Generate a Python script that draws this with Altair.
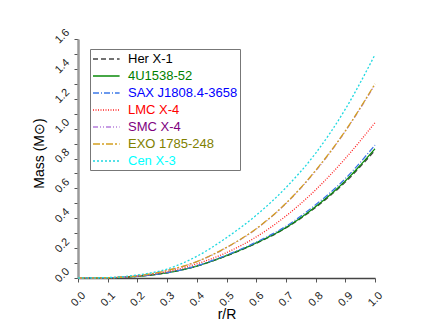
import altair as alt
import pandas as pd

r = [0.0, 0.1, 0.2, 0.3, 0.4, 0.5, 0.6, 0.7, 0.8, 0.9, 1.0]

her_x1 = [0.0, 0.0015, 0.011, 0.035, 0.080, 0.148, 0.232, 0.335, 0.472, 0.642, 0.855]
u4_1538 = [0.0, 0.0015, 0.011, 0.035, 0.080, 0.150, 0.235, 0.338, 0.478, 0.650, 0.865]
sax_j1808 = [0.0, 0.0015, 0.011, 0.036, 0.082, 0.153, 0.240, 0.346, 0.490, 0.665, 0.890]
lmc_x4 = [0.0, 0.002, 0.013, 0.042, 0.095, 0.170, 0.275, 0.415, 0.590, 0.800, 1.040]
smc_x4 = [0.0, 0.002, 0.015, 0.050, 0.109, 0.203, 0.328, 0.498, 0.716, 0.982, 1.295]
exo_1785 = [0.0, 0.002, 0.015, 0.050, 0.110, 0.205, 0.330, 0.500, 0.720, 0.985, 1.300]
cen_x3 = [0.0, 0.003, 0.020, 0.060, 0.145, 0.270, 0.420, 0.605, 0.835, 1.130, 1.495]

names = ["Her X-1", "4U1538-52", "SAX J1808.4-3658", "LMC X-4", "SMC X-4", "EXO 1785-248", "Cen X-3"]
series = [her_x1, u4_1538, sax_j1808, lmc_x4, smc_x4, exo_1785, cen_x3]
line_colors = ["#444444", "#0a8a0a", "#3b78e7", "#ff2020", "#b57edc", "#d4a020", "#1fd8e0"]
text_colors = ["#000000", "#008000", "#0000ff", "#ff0000", "#800080", "#808000", "#00ffff"]
dashes = [[5, 3], [1, 0], [6, 2, 1, 2], [1, 1.5], [5, 2, 1, 2, 1, 2], [7, 2, 2, 2], [2, 2]]

rows = []
for n, s in zip(names, series):
    for rv, mv in zip(r, s):
        rows.append({"r": rv, "mass": mv, "star": n})
df = pd.DataFrame(rows)

label_expr = " : ".join(
    [f"datum.label == '{n}' ? '{c}'" for n, c in zip(names, text_colors)]
) + " : 'black'"

legend = alt.Legend(
    title=None,
    orient="none",
    legendX=12,
    legendY=10,
    symbolType="M-1,0H2.8",
    symbolSize=196,
    symbolStrokeWidth=1.4,
    labelFont="Liberation Sans",
    labelFontSize=13,
    labelColor=alt.ExprRef(label_expr),
    strokeColor="#777777",
    padding=2,
    rowPadding=2,
    labelOffset=20,
)

x_vals = [0.0, 0.1, 0.2, 0.3, 0.4, 0.5, 0.6, 0.7, 0.8, 0.9, 1.0]
y_vals = [0.0, 0.1, 0.2, 0.3, 0.4, 0.5, 0.6, 0.7, 0.8, 0.9, 1.0, 1.1, 1.2, 1.3, 1.4, 1.5, 1.6]

chart = alt.Chart(df).mark_line(strokeWidth=1.3, interpolate="monotone").encode(
    x=alt.X("r:Q", scale=alt.Scale(domain=[0, 1.0], nice=False),
            axis=alt.Axis(title="r/R", values=x_vals, format=".1f", grid=False,
                          labelAngle=315, labelAlign="center", labelBaseline="middle",
                          labelPadding=17, tickSize=4, domainColor="#444444",
                          domainWidth=1.5, tickColor="#555555",
                          labelFont="Liberation Sans", labelFontSize=11,
                          labelColor="#222222", titleFont="Liberation Sans",
                          titleFontSize=14, titleFontWeight="normal", titlePadding=0)),
    y=alt.Y("mass:Q", scale=alt.Scale(domain=[0, 1.6], nice=False),
            axis=alt.Axis(title="Mass (M⊙)", values=y_vals, grid=False,
                          labelExpr="(round(datum.value*10) % 2 == 0) ? format(datum.value, '.1f') : ''",
                          labelAngle=315, labelAlign="center", labelBaseline="middle",
                          labelPadding=12, labelOffset=-3, tickSize=4, domainColor="#9a9a9a",
                          domainWidth=2.5, tickColor="#555555",
                          labelFont="Liberation Sans", labelFontSize=11,
                          labelColor="#222222", titleFont="Liberation Sans",
                          titleFontSize=14, titleFontWeight="normal", titlePadding=6,
                          titleY=114)),
    color=alt.Color("star:N", scale=alt.Scale(domain=names, range=line_colors), legend=legend, sort=names),
    strokeDash=alt.StrokeDash("star:N", scale=alt.Scale(domain=names, range=dashes), legend=legend, sort=names),
).properties(
    width=297,
    height=239,
    autosize=alt.AutoSizeParams(type="none"),
    padding={"left": 70, "top": 31, "right": 53, "bottom": 48},
).configure_view(stroke=None)

chart.save("out.html", embed_options={"renderer": "svg", "actions": False})
